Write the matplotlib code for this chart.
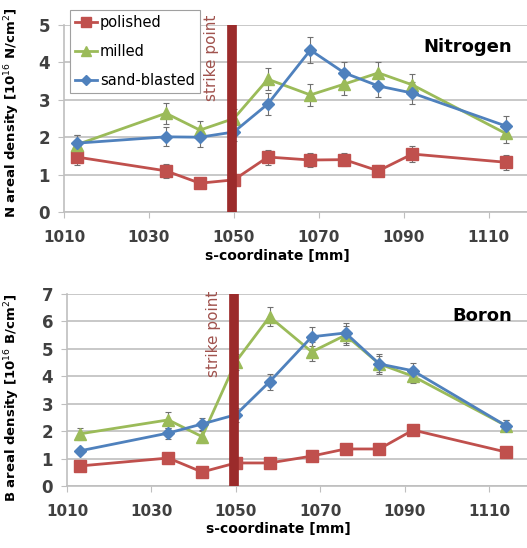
import matplotlib.pyplot as plt
from matplotlib.lines import Line2D

# s-coordinate of the measuring points [mm]
s_coord = [1013, 1034, 1042, 1050, 1058, 1068, 1076, 1084, 1092, 1114]

# nitrogen areal density [1e16 N/cm2]
n_polished = [1.47, 1.10, 0.77, 0.86, 1.47, 1.39, 1.40, 1.10, 1.55, 1.33]
n_milled = [1.80, 2.64, 2.19, 2.50, 3.55, 3.13, 3.42, 3.72, 3.40, 2.10]
n_sand = [1.84, 2.01, 2.00, 2.14, 2.89, 4.33, 3.72, 3.37, 3.18, 2.30]
n_pol_err = [0.20, 0.18, 0.12, 0.12, 0.20, 0.18, 0.18, 0.15, 0.22, 0.20]
n_mil_err = [0.25, 0.28, 0.25, 0.25, 0.30, 0.30, 0.30, 0.30, 0.30, 0.25]
n_sand_err = [0.22, 0.25, 0.25, 0.25, 0.30, 0.35, 0.30, 0.30, 0.30, 0.28]

# boron areal density [1e16 B/cm2]
b_polished = [0.73, 1.02, 0.51, 0.84, 0.84, 1.09, 1.35, 1.35, 2.04, 1.24]
b_milled = [1.90, 2.41, 1.80, 4.53, 6.17, 4.89, 5.50, 4.45, 4.00, 2.20]
b_sand = [1.28, 1.93, 2.26, 2.60, 3.80, 5.44, 5.58, 4.45, 4.20, 2.20]
b_pol_err = [0.08, 0.10, 0.06, 0.08, 0.08, 0.10, 0.12, 0.12, 0.18, 0.10]
b_mil_err = [0.22, 0.28, 0.22, 0.30, 0.35, 0.35, 0.35, 0.30, 0.25, 0.20]
b_sand_err = [0.12, 0.20, 0.22, 0.25, 0.30, 0.35, 0.35, 0.35, 0.30, 0.20]

x_ticks = [1010, 1030, 1050, 1070, 1090, 1110]
strike_point = 1049.5

red = '#C0504D'
green = '#9BBB59'
blue = '#4F81BD'
grid_col = '#BFBFBF'

series_style = [
    ('polished', red, 's', 8),
    ('milled', green, '^', 8),
    ('sand-blasted', blue, 'D', 6),
]

plt.rcParams['font.family'] = ['DejaVu Sans']

fig = plt.figure(figsize=(5.27, 5.48), dpi=100)
ax1 = fig.add_axes([64 / 527, 1 - 212 / 548, 463 / 527, 187 / 548])
ax2 = fig.add_axes([67 / 527, 1 - 486 / 548, 460 / 527, 192 / 548])


def draw_panel(ax, values, errors, ymax, ylabel, title, text_top, ylab_xy):
    for ys, err, (lab, col, mk, ms) in zip(values, errors, series_style):
        ax.errorbar(s_coord, ys, yerr=err, color=col, marker=mk, markersize=ms,
                    linewidth=2, ecolor='#707070', elinewidth=0.8, capsize=2.5,
                    capthick=0.8, label=lab, zorder=3)
    ax.axvline(strike_point, ymin=0, ymax=1, color='#9B2B2B', linewidth=7, zorder=4)
    ax.set_xlim(1010, 1119)
    ax.set_ylim(0, ymax)
    ax.set_xticks(x_ticks)
    ax.set_yticks(range(0, ymax + 1))
    ax.grid(axis='y', color=grid_col, linewidth=1.2)
    ax.set_axisbelow(True)
    for side in ['top', 'right']:
        ax.spines[side].set_visible(False)
    for side in ['left', 'bottom']:
        ax.spines[side].set_color(grid_col)
        ax.spines[side].set_linewidth(1.2)
    ax.tick_params(axis='both', colors=grid_col, labelcolor='#404040',
                   labelsize=11, length=4)
    ax.tick_params(axis='x', pad=9)
    ax.tick_params(axis='y', labelsize=12, pad=6)
    for lbl in ax.get_xticklabels() + ax.get_yticklabels():
        lbl.set_fontweight('bold')
    ax.set_xlabel('s-coordinate [mm]', fontsize=10, fontweight='bold', labelpad=5)
    ax.xaxis.set_label_coords(0.46, -0.2 if ymax == 5 else -0.19)
    ax.set_ylabel(ylabel, fontsize=9.5, fontweight='bold')
    ax.yaxis.set_label_coords(*ylab_xy)
    ax.text(0.968, 0.93, title, transform=ax.transAxes, ha='right', va='top',
            fontsize=13, fontweight='bold')
    ax.text(1044.8, ymax * text_top, 'strike point', rotation=90, ha='center',
            va='top', fontsize=11, color='#A0524D', clip_on=False)


draw_panel(ax1, [n_polished, n_milled, n_sand], [n_pol_err, n_mil_err, n_sand_err],
           5, 'N areal density [10$^{16}$ N/cm$^2$]', 'Nitrogen', 1.055, (-0.09, 0.53))
draw_panel(ax2, [b_polished, b_milled, b_sand], [b_pol_err, b_mil_err, b_sand_err],
           7, 'B areal density [10$^{16}$ B/cm$^2$]', 'Boron', 1.02, (-0.098, 0.46))

handles = [Line2D([], [], color=col, marker=mk, markersize=ms * 0.9, linewidth=2)
           for lab, col, mk, ms in series_style]
labels = [lab for lab, col, mk, ms in series_style]
leg = fig.legend(handles, labels, loc='upper left',
                 bbox_to_anchor=(70 / 527, 1 - 10 / 548), fontsize=10.5,
                 frameon=True, fancybox=False, framealpha=1, handlelength=1.5,
                 handletextpad=0.2, borderpad=0.35, labelspacing=0.95,
                 borderaxespad=0)
leg.get_frame().set_edgecolor('#A0A0A0')
leg.get_frame().set_linewidth(0.8)

fig.savefig('out.png', dpi=100)
